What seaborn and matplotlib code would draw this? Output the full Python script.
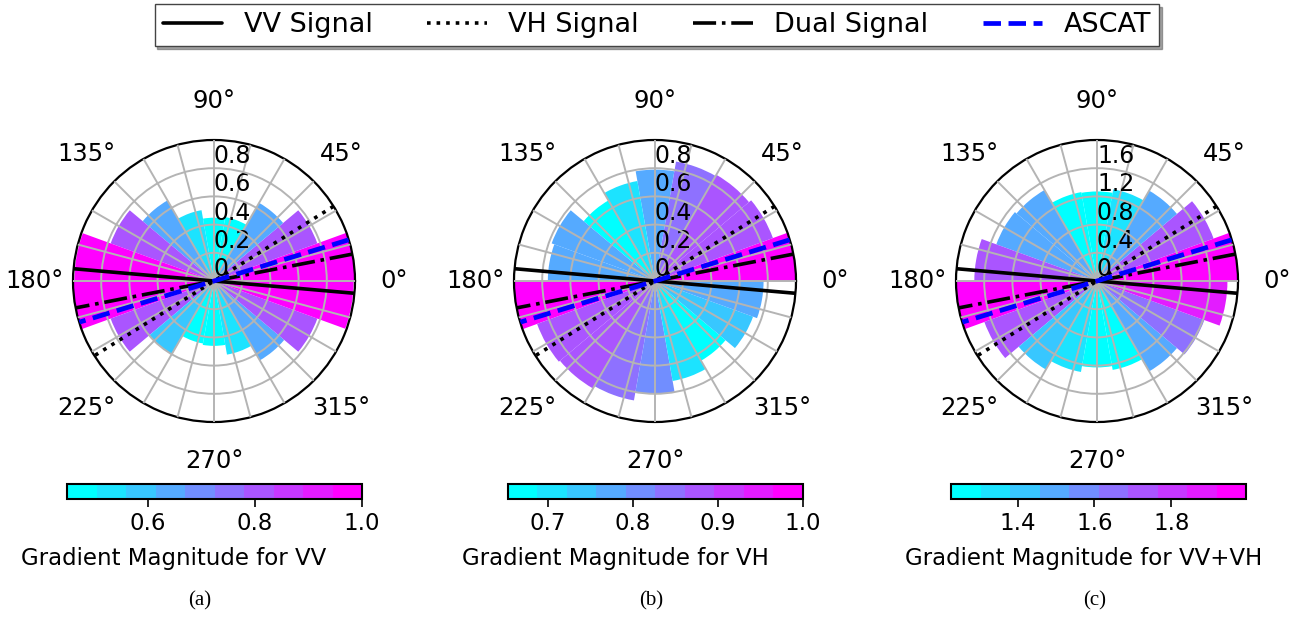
import numpy as np
import matplotlib
matplotlib.use("Agg")
import matplotlib.pyplot as plt
import seaborn as sns
from matplotlib.colors import ListedColormap, Normalize
from matplotlib.cm import ScalarMappable

# ---------------- data ----------------
bin_start_deg = np.arange(0, 360, 20)          # 18 direction bins, 20 deg wide
vv_mag = [1.00, 0.78, 0.64, 0.46, 0.449, 0.51, 0.66, 0.78, 0.99,
          1.00, 0.78, 0.60, 0.45, 0.46, 0.53, 0.65, 0.78, 0.99]
vh_mag = [1.00, 0.89, 0.87, 0.86, 0.79, 0.72, 0.66, 0.78, 0.76,
          1.00, 0.89, 0.88, 0.86, 0.80, 0.72, 0.653, 0.74, 0.77]
dual_mag = [1.995, 1.76, 1.48, 1.32, 1.27, 1.28, 1.49, 1.52, 1.74,
            1.99, 1.70, 1.45, 1.31, 1.226, 1.28, 1.48, 1.62, 1.85]

line_names = ["VV Signal", "VH Signal", "Dual Signal", "ASCAT"]
line_angles_deg = [-5, 32, 11, 17]

rticks_vv = [0, 0.2, 0.4, 0.6, 0.8]
rticks_vh = [0, 0.2, 0.4, 0.6, 0.8]
rticks_dual = [0, 0.4, 0.8, 1.2, 1.6]
rmax_list = [1.0, 1.0, 2.0]

theta_grid_deg = np.arange(0, 360, 15)
theta_label_deg = [0, 45, 90, 135, 180, 225, 270, 315]

cbar_labels = ["Gradient Magnitude for VV", "Gradient Magnitude for VH",
               "Gradient Magnitude for VV+VH"]
captions = ["(a)", "(b)", "(c)"]

# ---------------- style ----------------
sns.set_theme(style="white")
plt.rcParams["font.family"] = ["DejaVu Sans"]
plt.rcParams["font.size"] = 16.5
for k in ["text.color", "axes.labelcolor", "xtick.color", "ytick.color"]:
    plt.rcParams[k] = "black"

cmap = ListedColormap(plt.get_cmap("cool")(np.linspace(0, 1, 10)))

line_styles = [dict(color="black", ls="-", lw=2.6),
               dict(color="black", ls=":", lw=2.6),
               dict(color="black", ls="-.", lw=2.6),
               dict(color="blue", ls="--", lw=3.4)]

W, H = 1314, 617
fig = plt.figure(figsize=(W / 100, H / 100), dpi=100)

centers_x = [214, 655, 1097]
center_y = 281
radius = 141
cbar_left = [67, 508, 951]
cbar_w = 295
caption_x = [200, 651, 1095]

datasets = [vv_mag, vh_mag, dual_mag]
rtick_sets = [rticks_vv, rticks_vh, rticks_dual]

handles = []
for i in range(3):
    vals = np.asarray(datasets[i], dtype=float)
    cx = centers_x[i]
    ax = fig.add_axes([(cx - radius) / W, 1 - (center_y + radius) / H,
                       2 * radius / W, 2 * radius / H], projection="polar")
    norm = Normalize(vmin=vals.min(), vmax=vals.max())
    ax.bar(np.deg2rad(bin_start_deg), vals, width=np.deg2rad(20), align="edge",
           color=cmap(norm(vals)), edgecolor="none", zorder=1)
    rmax = rmax_list[i]
    for name, ang, st in zip(line_names, line_angles_deg, line_styles):
        a = np.deg2rad(ang)
        h, = ax.plot([a, a, a + np.pi], [rmax, 0, rmax], label=name, zorder=3, **st)
        if i == 0:
            handles.append(h)
    ax.set_ylim(0, rmax)
    ax.set_yticks(rtick_sets[i])
    ax.set_yticklabels([f"{t:g}" for t in rtick_sets[i]], fontsize=17)
    ax.set_rlabel_position(90)
    ax.set_thetagrids(theta_grid_deg,
                      labels=[f"{d}°" if d in theta_label_deg else "" for d in theta_grid_deg],
                      fontsize=17.5)
    ax.tick_params(axis="x", pad=15)
    ax.grid(True, color="#b4b4b4", lw=1.4)
    ax.set_axisbelow(False)
    ax.spines["polar"].set_color("black")
    ax.spines["polar"].set_linewidth(1.6)
    ax.set_facecolor("white")

    cax = fig.add_axes([cbar_left[i] / W, 1 - 499 / H, cbar_w / W, 15 / H])
    cb = fig.colorbar(ScalarMappable(norm=norm, cmap=cmap), cax=cax,
                      orientation="horizontal")
    cb.outline.set_linewidth(1.5)
    cb.outline.set_edgecolor("black")
    cax.tick_params(labelsize=16.5, length=6, width=1.2, color="black")
    fig.text((cbar_left[i] - 46) / W, 1 - 558 / H, cbar_labels[i], ha="left",
             va="center", fontsize=16.5)

    fig.text(caption_x[i] / W, 1 - 601 / H, captions[i], ha="center", va="center",
             family="Liberation Serif", fontsize=15)

leg = fig.legend(handles=handles, labels=line_names, loc="upper center",
                 bbox_to_anchor=(0.5, 1.0), ncol=4, fontsize=19.5, frameon=True,
                 shadow=True, fancybox=False, edgecolor="#444444", framealpha=1,
                 handlelength=2.2, handletextpad=0.8, columnspacing=2.0,
                 borderaxespad=0.15, borderpad=0.3)

fig.savefig("out.png", dpi=100, facecolor="white")
